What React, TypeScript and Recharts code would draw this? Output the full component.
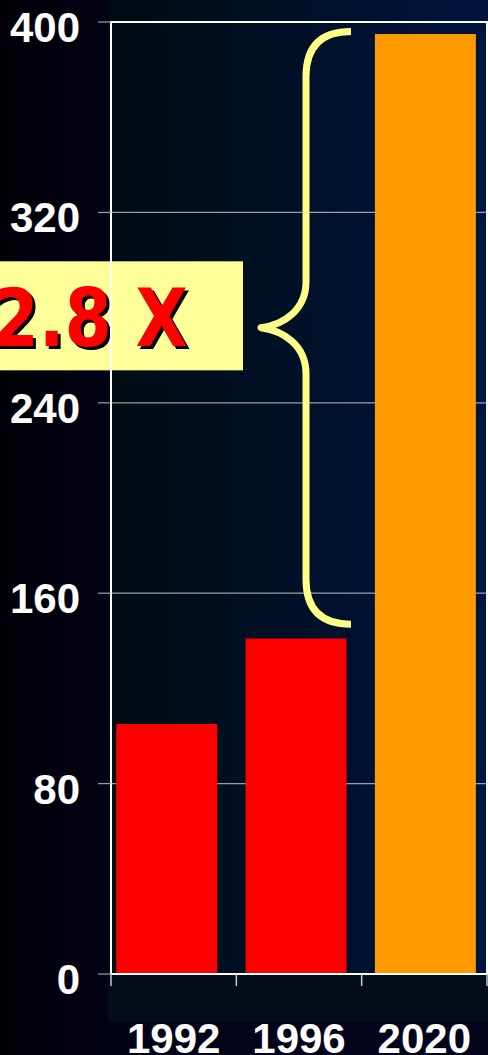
import React from 'react';
import { BarChart, Bar, XAxis, YAxis, CartesianGrid, ReferenceArea, Cell } from 'recharts';

const categories = ['1992', '1996', '2020'];
const values = [105, 141, 395];
const barColors = ['#ff0000', '#ff0000', '#ff9900'];
const yTicks = [0, 80, 160, 240, 320, 400];
const edgeTicks = [0, 1, 2, 3];
const braceFrom = 147;
const braceTo = 396;
const ratioLabel = '2.8 X';

const data = categories.map((c, i) => ({ year: c, value: values[i], idx: i + 0.5 }));

const YTick = (props: any) => {
  const { x, y, payload } = props;
  return (
    <text x={x} y={y + 20} textAnchor="end" fill="#ffffff" fontSize={42} fontWeight="bold" fontFamily="'Liberation Sans', Arial, sans-serif">
      {payload.value}
    </text>
  );
};

const EdgeTick = (props: any) => {
  const { x, y, index, visibleTicksCount, width } = props;
  const n = (visibleTicksCount || edgeTicks.length) - 1;
  if (index >= n) return <g />;
  const half = Number(width) / n / 2;
  return (
    <text x={x + half} y={y + 67} textAnchor="middle" fill="#ffffff" fontSize={42} fontWeight="bold" fontFamily="'Liberation Sans', Arial, sans-serif">
      {categories[index]}
    </text>
  );
};

const BraceShape = (props: any) => {
  const { x, y, height } = props;
  const top = y;
  const bot = y + height;
  const mid = y + height / 2;
  const xe = x + 240;
  const xv = x + 195;
  const xt = x + 150;
  const r = 45;
  const d = `M ${xe} ${top} Q ${xv} ${top} ${xv} ${top + r} L ${xv} ${mid - 46} C ${xv} ${mid - 18} ${xv - 22} ${mid - 3} ${xt} ${mid} C ${xv - 22} ${mid + 3} ${xv} ${mid + 18} ${xv} ${mid + 46} L ${xv} ${bot - r} Q ${xv} ${bot} ${xe} ${bot}`;
  const boxLeft = x - 111;
  const boxTop = mid - 66.5;
  const tx = x + 77;
  const ty = mid + 18.5;
  return (
    <g>
      <path d={d} fill="none" stroke="#ffff88" strokeWidth={7} strokeLinejoin="round" />
      <rect x={boxLeft} y={boxTop} width={243} height={109} fill="#ffff99" />
      <g transform={`translate(${tx + 3}, ${ty + 3}) scale(1, 1.17)`}>
        <text x={0} y={0} textAnchor="end" fill="#000000" fontSize={68} fontWeight="bold" fontFamily="'DejaVu Sans', Verdana, sans-serif">
          {ratioLabel}
        </text>
      </g>
      <g transform={`translate(${tx}, ${ty}) scale(1, 1.17)`}>
        <text x={0} y={0} textAnchor="end" fill="#ff0000" fontSize={68} fontWeight="bold" fontFamily="'DejaVu Sans', Verdana, sans-serif">
          {ratioLabel}
        </text>
      </g>
    </g>
  );
};

const BorderShape = (props: any) => {
  const { x, y, width, height } = props;
  return <rect x={x} y={y} width={width} height={height} fill="none" stroke="#ffffff" strokeWidth={2} />;
};

export default function App() {
  return (
    <div style={{ position: 'absolute', left: 0, top: 0, width: 488, height: 1055, overflow: 'hidden', background: 'linear-gradient(to right, #000006, #030318 25%, #03031c)' }}>
      <div style={{ position: 'absolute', left: 108, top: 0, width: 380, height: 974, background: 'linear-gradient(to right, #000c12, #00143e)' }} />
      <div style={{ position: 'absolute', left: 108, top: 974, width: 380, height: 48, background: '#030c18' }} />
      <div style={{ position: 'absolute', left: 0, top: 0 }}>
        <BarChart width={488} height={1055} data={data} margin={{ top: 22, right: 1, left: 0, bottom: 0 }} barCategoryGap="11%">
          <CartesianGrid horizontal={true} vertical={false} stroke="#9c9cac" strokeWidth={1.2} />
          <XAxis xAxisId={0} dataKey="year" type="category" hide height={0} padding={{ left: -9, right: -3 }} />
          <XAxis
            xAxisId="edges"
            dataKey="idx"
            type="number"
            domain={[0, 3]}
            ticks={edgeTicks}
            allowDataOverflow
            height={81}
            tick={<EdgeTick />}
            tickSize={12}
            tickMargin={0}
            interval={0}
            tickLine={{ stroke: '#c8c8d0', strokeWidth: 1.5 }}
            axisLine={{ stroke: '#ffffff', strokeWidth: 2 }}
          />
          <YAxis
            domain={[0, 400]}
            ticks={yTicks}
            width={111}
            tickSize={13}
            tickMargin={18}
            tickLine={{ stroke: '#9c9cac', strokeWidth: 1.2 }}
            axisLine={{ stroke: '#ffffff', strokeWidth: 2 }}
            tick={<YTick />}
            interval={0}
          />
          <Bar dataKey="value" xAxisId={0} isAnimationActive={false}>
            {data.map((d, i) => (
              <Cell key={d.year} fill={barColors[i]} />
            ))}
          </Bar>
          <ReferenceArea xAxisId="edges" x1={0} x2={3} y1={0} y2={400} shape={<BorderShape />} ifOverflow="visible" />
          <ReferenceArea xAxisId="edges" x1={0} x2={3} y1={braceFrom} y2={braceTo} shape={<BraceShape />} ifOverflow="visible" />
        </BarChart>
      </div>
    </div>
  );
}
